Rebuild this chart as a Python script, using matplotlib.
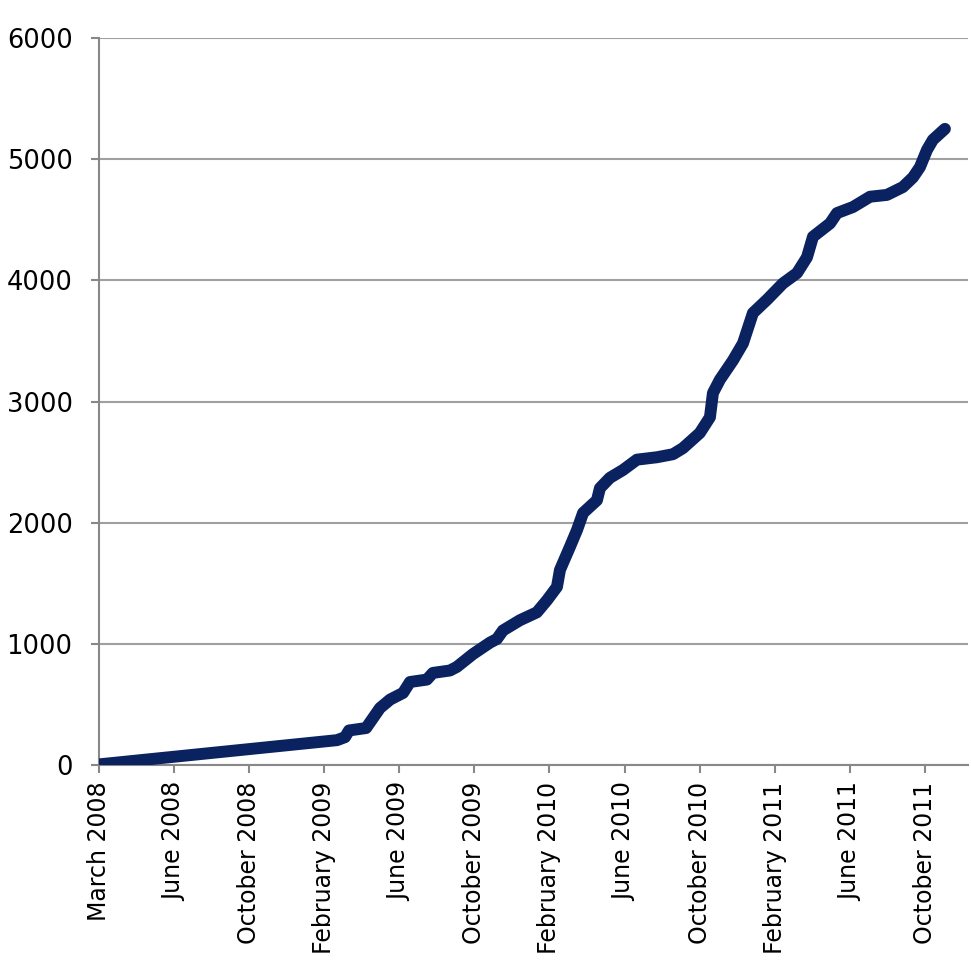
import matplotlib
matplotlib.use("Agg")
import matplotlib.pyplot as plt

# x positions: months along the axis (tick every 4 units)
months = [0, 12.68, 13.11, 13.32, 14.23, 14.97, 15.51, 16.20, 16.57, 17.47,
          17.79, 18.70, 19.07, 19.92, 20.83, 21.20, 21.52, 22.43, 23.33, 23.87,
          24.40, 24.56, 25.09, 25.47, 25.79, 26.53, 26.69, 27.22, 27.92, 28.66,
          29.73, 30.58, 31.11, 32.01, 32.55, 32.71, 33.08, 33.78, 34.31, 34.84,
          35.59, 36.44, 37.19, 37.72, 38.04, 38.95, 39.32, 40.17, 41.08, 41.98,
          42.83, 43.37, 43.74, 44.11, 44.43, 45.07]
totals = [5, 205, 230, 285, 305, 470, 540, 595, 685, 705,
          760, 780, 810, 915, 1010, 1040, 1110, 1195, 1260, 1360,
          1470, 1610, 1800, 1940, 2080, 2185, 2285, 2370, 2435, 2520,
          2540, 2565, 2615, 2740, 2870, 3070, 3180, 3340, 3480, 3730,
          3840, 3975, 4060, 4190, 4360, 4470, 4555, 4605, 4690, 4705,
          4770, 4850, 4935, 5075, 5160, 5250]

tick_labels = ["March 2008", "June 2008", "October 2008", "February 2009",
               "June 2009", "October 2009", "February 2010", "June 2010",
               "October 2010", "February 2011", "June 2011", "October 2011"]
y_ticks = [0, 1000, 2000, 3000, 4000, 5000, 6000]

fig = plt.figure(figsize=(9.71, 9.72), dpi=100)
ax = fig.add_axes([99 / 971, 207 / 972, (968 - 99) / 971, (765 - 38) / 972])

ax.plot(months, totals, color="#0a2260", linewidth=8.6,
        solid_capstyle="round", solid_joinstyle="round", zorder=3)

ax.set_xlim(0, 46.3)
ax.set_ylim(0, 6000)
ax.set_yticks(y_ticks)
ax.set_xticks([4 * i for i in range(len(tick_labels))])
ax.set_xticklabels(tick_labels, rotation=90, ha="center", va="top")

ax.yaxis.grid(True, color="#a0a0a0", linewidth=1.5)
ax.set_axisbelow(True)
for side in ["top", "right"]:
    ax.spines[side].set_visible(False)
ax.spines["left"].set_color("#888888")
ax.spines["bottom"].set_color("#888888")
ax.spines["left"].set_linewidth(1.5)
ax.spines["bottom"].set_linewidth(1.5)

ax.tick_params(axis="y", direction="out", length=6, width=1.5, color="#888888",
               labelsize=18.5, pad=13)
ax.tick_params(axis="x", direction="out", length=6, width=1.5, color="#888888",
               labelsize=17, pad=6)

fig.savefig("out.png", dpi=100)
